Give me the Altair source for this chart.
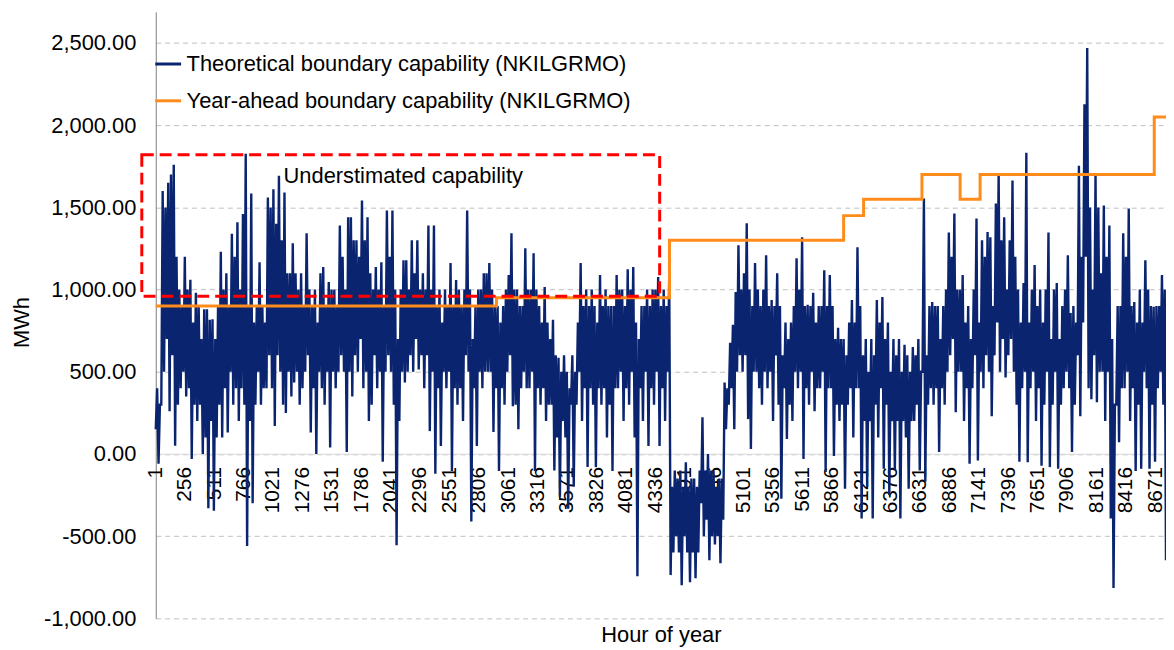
import altair as alt
import pandas as pd

FONT = "Liberation Sans"
BLUE = "#0a2470"
ORANGE = "#ff8c1a"
RED = "#ff0000"

theo_name = "Theoretical boundary capability (NKILGRMO)"
year_name = "Year-ahead boundary capability (NKILGRMO)"

# Theoretical boundary capability (MWh):
# the daily low (first half of the day) and the daily high (second half)
daily_low = [
    150, -60, 300, 500, 700, 260, 600, 50, 300, 400,
    500, 350, 400, -30, 300, 200, 300, 0, 100, -330,
    200, -345, 100, 300, 100, 400, 130, 500, 300, 400,
    200, 400, 300, -560, 200, -300, 300, 500, 300, 400,
    400, 600, 400, 170, 600, 500, 300, 250, 500, 350,
    435, 500, 300, 400, 500, 600, 130, 400, 0, 500,
    400, 300, 500, 40, 500, 400, 500, 600, 500, 12,
    500, 350, 600, 500, 700, 400, 500, 200, 300, 600,
    400, 500, -48, 500, 600, 500, 300, -556, 200, 500,
    435, 500, 600, 500, 700, 514, 600, 400, 600, 139,
    500, -121, 400, 48, 500, 400, 500, -103, 400, 300,
    400, 200, 600, 500, -411, 400, 48, 500, 400, 500,
    500, 500, 133, 400, -103, 400, 300, 500, 600, 290,
    300, 150, 400, 500, 400, 400, 500, -103, 400, 300,
    400, 200, 300, 300, -100, 100, -260, 200, 100, -333,
    300, -200, 300, 500, 200, 400, -79, 400, 300, -80,
    400, 300, 400, 100, 300, -103, 400, 400, 500, 200,
    400, 300, 500, 100, -744, 400, 200, 500, 48, 400,
    300, 500, 48, 400, 200, 500, -737, -600, -500, -600,
    -798, -500, -600, -780, -600, -756, -600, -300, -500, -400,
    -647, -500, -550, -500, -665, -400, 150, 300, 400, 151,
    500, 600, 500, 600, 212, 30, 500, 500, 400, 300,
    500, 400, 500, 200, 600, 300, -272, 400, 91, 300,
    200, 500, 400, 500, -30, 400, 300, 500, 260, 400,
    400, 500, -109, 400, 400, -12, 300, 200, 300, -212,
    300, 400, 100, 400, 400, -393, 200, -200, 200, -393,
    300, 100, 400, -90, 300, -250, 200, -100, 200, -393,
    200, 100, -212, 200, 200, 300, -100, 500, -169, 300,
    400, 300, 400, 12, 400, 300, 500, 600, 700, 254,
    500, 500, 200, 400, -60, 400, 600, -40, 500, 400,
    600, 500, 230, 600, 800, 500, 700, 465, 600, 700,
    500, 300, -48, 400, 500, -50, 400, 500, 200, 400,
    -72, 300, 500, -80, 300, 500, -90, 300, 400, 500,
    400, 12, 300, 600, 230, 800, 1200, 400, 333, 600,
    314, 500, 500, 200, 500, -393, -816, 300, 72, 400,
    400, 500, 200, 400, -103, 300, -90, 500, 400, -90,
    300, -48, 400, 500, 300,
]
daily_high = [
    400, 300, 1600, 1500, 1650, 1700, 1760, 1200, 1000, 900,
    1200, 1000, 1060, 800, 980, 900, 700, 880, 880, 816,
    820, 700, 900, 1230, 1000, 1100, 900, 1340, 1200, 1410,
    1000, 1460, 1826, 900, 1584, 800, 900, 1167, 900, 800,
    1560, 1500, 1610, 1400, 1693, 1300, 1590, 1100, 1100, 1282,
    1100, 1000, 1100, 900, 1342, 1000, 900, 1000, 800, 1100,
    1137, 900, 1046, 1000, 1000, 900, 1390, 1200, 1000, 1440,
    1440, 1300, 1300, 1200, 1542, 1300, 1440, 1100, 1000, 1137,
    1000, 1167, 900, 1481, 1200, 1481, 1000, 700, 1000, 1179,
    1179, 1000, 1300, 1100, 1300, 1000, 1100, 1000, 1390, 1000,
    1390, 900, 1000, 800, 1000, 900, 1161, 900, 1058, 1000,
    900, 1000, 1481, 1000, 700, 900, 1000, 1000, 1100, 1100,
    1161, 1000, 900, 900, 800, 900, 1000, 1088, 1342, 1000,
    1000, 900, 900, 1252, 1000, 1000, 1221, 1000, 900, 800,
    1016, 800, 700, 816, 600, 586, 500, 600, 500, 400,
    600, 500, 800, 1161, 900, 1000, 900, 1000, 900, 800,
    1088, 900, 1000, 900, 900, 900, 1088, 1000, 1000, 900,
    1124, 1000, 1137, 800, 700, 900, 900, 1000, 900, 1000,
    1000, 1076, 900, 1000, 900, 1088, -200, -100, -150, -100,
    -200, -50, -200, -150, -150, -200, -100, 224, -100, 0,
    -100, -100, -200, -150, -150, 435, 400, 677, 786, 985,
    1270, 1000, 1100, 1403, 1000, 900, 1161, 1000, 900, 1000,
    1209, 900, 937, 900, 1100, 900, 600, 800, 700, 800,
    900, 1191, 1000, 1318, 900, 907, 900, 980, 800, 900,
    900, 1118, 900, 1088, 900, 700, 768, 700, 700, 600,
    800, 937, 800, 1258, 900, 600, 700, 500, 700, 600,
    937, 800, 955, 700, 800, 500, 700, 600, 700, 500,
    665, 600, 500, 650, 600, 700, 500, 1554, 600, 900,
    925, 900, 900, 700, 900, 1000, 1348, 1200, 1463, 1000,
    1000, 1088, 800, 900, 700, 1000, 1433, 800, 1300, 1200,
    1350, 1318, 900, 1524, 1705, 1300, 1440, 1000, 1300, 1663,
    1200, 1000, 800, 1040, 1832, 800, 1000, 1149, 900, 1000,
    800, 1000, 1348, 700, 1000, 1040, 700, 900, 1000, 1209,
    858, 900, 800, 1753, 1200, 2128, 2469, 1500, 1000, 1705,
    1500, 1100, 1512, 1200, 1390, 700, 300, 900, 900, 1342,
    1200, 1493, 900, 925, 800, 1000, 800, 1179, 1000, 900,
    895, 900, 900, 1088, 1000,
]
# last hour of the year
end_hour = 8760
end_value = -647

# Year-ahead boundary capability: hour where each level starts, and the level
year_hours = [1, 2955, 4455, 5965, 6138, 6644, 6975, 7148, 8658, 8760]
year_values = [900, 950, 1300, 1450, 1550, 1700, 1550, 1700, 2050, 2050]

# Highlight box ("Understimated capability")
box_hours = [-120, 4370]
box_mwh = [960, 1820]
note_text = "Understimated capability"
note_hour = 1109
note_mwh = 1690

x_ticks = [1, 256, 511, 766, 1021, 1276, 1531, 1786, 2041, 2296, 2551, 2806,
           3061, 3316, 3571, 3826, 4081, 4336, 4591, 4846, 5101, 5356, 5611,
           5866, 6121, 6376, 6631, 6886, 7141, 7396, 7651, 7906, 8161, 8416, 8671]
y_ticks = [-1000, -500, 0, 500, 1000, 1500, 2000, 2500]

rows = []
for d, (lo, hi) in enumerate(zip(daily_low, daily_high)):
    rows.append({"hour": 1 + 24 * d, "mwh": lo})
    rows.append({"hour": 13 + 24 * d, "mwh": hi})
rows.append({"hour": end_hour, "mwh": end_value})
theo_df = pd.DataFrame(rows)
theo_df["series"] = theo_name
year_df = pd.DataFrame({"hour": year_hours, "mwh": year_values, "series": year_name})
tick_df = pd.DataFrame({"hour": x_ticks, "label": [str(t) for t in x_ticks]})

x_scale = alt.Scale(domain=[1, 8760], nice=False, zero=False)
y_scale = alt.Scale(domain=[-1000, 2690], nice=False, zero=False)

color = alt.Color(
    "series:N",
    scale=alt.Scale(domain=[theo_name, year_name], range=[BLUE, ORANGE]),
    legend=alt.Legend(
        title=None, orient="none", legendX=-2, legendY=38, padding=0,
        symbolType="stroke", symbolSize=676, symbolStrokeWidth=3,
        labelFontSize=22, labelFont=FONT, labelColor="#000000",
        labelOffset=4, rowPadding=11, labelLimit=800,
    ),
)

x_axis = alt.Axis(
    values=x_ticks, labels=False, ticks=False, grid=False,
    domainColor="#d9d9d9", domainWidth=1, offset=-165.5,
    title="Hour of year", titleFontSize=22, titleFont=FONT,
    titleFontWeight="normal", titleColor="#000000",
    titleY=182, titleBaseline="middle",
)
y_axis = alt.Axis(
    values=y_ticks,
    labelExpr="replace(format(datum.value, ',.2f'), '\u2212', '-')",
    labelFontSize=22, labelFont=FONT,
    labelColor="#000000", labelPadding=20, ticks=False,
    grid=True, gridColor="#bfbfbf", gridDash=[5, 4], gridWidth=1,
    domainColor="#7f7f7f", domainWidth=1,
    title="MWh", titleFontSize=22, titleFont=FONT,
    titleFontWeight="normal", titleColor="#000000",
    titleAngle=-90, titleX=-135, titleY=312,
    titleAlign="center", titleBaseline="middle",
)

tick_labels = alt.Chart(tick_df).mark_text(
    angle=270, align="right", baseline="middle", dx=-13,
    fontSize=21, font=FONT, color="#000000", clip=False
).encode(
    x=alt.X("hour:Q", scale=x_scale, axis=x_axis),
    y=alt.YDatum(0, scale=y_scale, axis=y_axis, title="MWh"),
    text="label:N",
)

theo_line = alt.Chart(theo_df).mark_line(strokeWidth=2.4).encode(
    x=alt.X("hour:Q", scale=x_scale, axis=x_axis),
    y=alt.Y("mwh:Q", scale=y_scale, axis=y_axis),
    color=color, order="hour:Q",
)
year_line = alt.Chart(year_df).mark_line(strokeWidth=3, interpolate="step-after").encode(
    x="hour:Q", y="mwh:Q", color=color, order="hour:Q"
)
box = alt.Chart(pd.DataFrame({"x": [box_hours[0]], "x2": [box_hours[1]],
                              "y": [box_mwh[0]], "y2": [box_mwh[1]]})).mark_rect(
    filled=False, stroke=RED, strokeWidth=3, strokeDash=[12, 6], clip=False
).encode(x="x:Q", x2="x2:Q", y="y:Q", y2="y2:Q")
note = alt.Chart(pd.DataFrame({"x": [note_hour], "y": [note_mwh], "t": [note_text]})).mark_text(
    align="left", baseline="middle", fontSize=22, font=FONT, color="#000000"
).encode(x="x:Q", y="y:Q", text="t:N")

chart = alt.layer(tick_labels, theo_line, year_line, box, note).properties(
    width=1016, height=610,
    autosize=alt.AutoSizeParams(type="none"),
    padding={"left": 148.6, "top": 2, "right": 0, "bottom": 28},
).configure_view(stroke=None)

chart.save("out.html", embed_options={"renderer": "svg", "actions": False})
